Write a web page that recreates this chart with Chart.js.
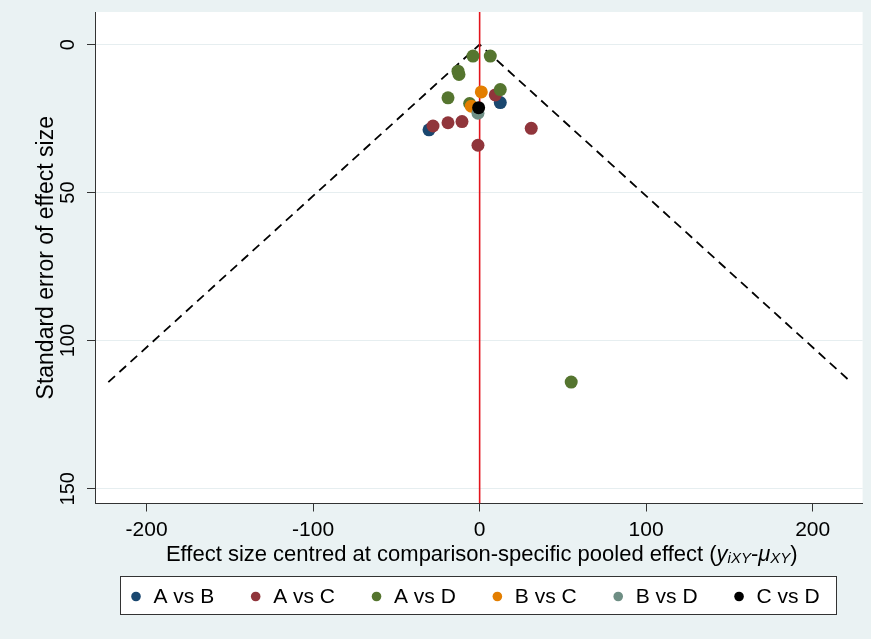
<!DOCTYPE html>
<html>
<head>
<meta charset="utf-8">
<script src="https://cdn.jsdelivr.net/npm/chart.js@4.4.0/dist/chart.umd.min.js"></script>
<style>
html, body { margin: 0; padding: 0; background: #eaf2f3; }
canvas { display: block; }
</style>
</head>
<body>
<canvas id="funnel" width="871" height="639"></canvas>
<script>
// values (x = centred effect size, y = standard error)
const abX = [12.4, -30.4];
const abY = [19.6, 28.8];
const acX = [9.4, -19, -10.6, -28, 31, -1];
const acY = [17, 26.4, 26, 27.5, 28.3, 34];
const adX = [-4, 6.4, -13, -12.4, 12.4, -19, -6, 55];
const adY = [3.9, 3.9, 9, 10.1, 15.2, 18, 19.9, 114];
const bcX = [1, -5];
const bcY = [16, 20.8];
const bdX = [-1];
const bdY = [23.2];
const cdX = [-0.6];
const cdY = [21.3];

const seriesNames = ['A vs B', 'A vs C', 'A vs D', 'B vs C', 'B vs D', 'C vs D'];
const seriesColors = ['#1a476f', '#90353b', '#55752f', '#e37e00', '#6e8e84', '#000000'];

// funnel limits and zero line
const funnelX = [-223, 0, 223];
const funnelY = [114, 0, 114];
const zeroX = [0, 0];
const zeroY = [-11, 155];

const xTicks = [-200, -100, 0, 100, 200];
const yTicks = [0, 50, 100, 150];

const FONT = 'Arial, "Liberation Sans", sans-serif';

function pts(xs, ys) {
    return xs.map(function (x, i) { return { x: x, y: ys[i] }; });
}

const groups = [[abX, abY], [acX, acY], [adX, adY], [bcX, bcY], [bdX, bdY], [cdX, cdY]];
const datasets = [];
groups.forEach(function (g, i) {
    datasets.push({
        label: seriesNames[i],
        data: pts(g[0], g[1]),
        backgroundColor: seriesColors[i],
        borderWidth: 0,
        pointRadius: 6.5,
        pointHoverRadius: 6.5,
        order: 6 - i,
        inLegend: true
    });
});
datasets.push({
    label: 'funnel',
    data: pts(funnelX, funnelY),
    showLine: true,
    borderColor: '#000',
    borderWidth: 1.8,
    borderDash: [9, 6],
    pointRadius: 0,
    order: 20
});
datasets.push({
    label: 'zero',
    data: pts(zeroX, zeroY),
    showLine: true,
    borderColor: '#e3141c',
    borderWidth: 1.6,
    pointRadius: 0,
    order: 19
});

const backdrop = {
    id: 'backdrop',
    beforeDraw: function (chart) {
        const c = chart.ctx, a = chart.chartArea;
        c.save();
        c.fillStyle = '#eaf2f3';
        c.fillRect(0, 0, chart.width, chart.height);
        c.fillStyle = '#ffffff';
        c.fillRect(a.left, a.top, a.right - a.left, a.bottom - a.top);
        c.restore();
    }
};

const extras = {
    id: 'extras',
    afterDraw: function (chart) {
        const c = chart.ctx, a = chart.chartArea;
        c.save();
        // x axis title with subscripts
        const big = '22px ' + FONT, bigI = 'italic 22px ' + FONT, small = 'italic 15px ' + FONT;
        const parts = [
            ['Effect size centred at comparison-specific pooled effect (', big, 0],
            ['y', bigI, 0], ['iXY', small, 2], ['-', big, 0],
            ['\u03bc', bigI, 0], ['XY', small, 2], [')', big, 0]
        ];
        let total = 0;
        parts.forEach(function (p) { c.font = p[1]; p.push(c.measureText(p[0]).width); total += p[3]; });
        let x = (a.left + a.right) / 2 + 3 - total / 2;
        const base = 561;
        c.fillStyle = '#000';
        c.textBaseline = 'alphabetic';
        c.textAlign = 'left';
        parts.forEach(function (p) { c.font = p[1]; c.fillText(p[0], x, base + p[2]); x += p[3]; });

        // legend box
        const bx = 120, by = 576, bw = 716, bh = 38;
        c.fillStyle = '#ffffff';
        c.fillRect(bx, by, bw, bh);
        c.strokeStyle = '#333';
        c.lineWidth = 1;
        c.strokeRect(bx + 0.5, by + 0.5, bw, bh);
        c.font = '21px ' + FONT;
        const items = chart.data.datasets.filter(function (d) { return d.inLegend; });
        const gap = 37, mk = 22;
        const widths = items.map(function (d) { return mk + c.measureText(d.label).width; });
        let ix = 131.5;
        const cy = by + bh / 2 + 1.5;
        c.textBaseline = 'middle';
        items.forEach(function (d, i) {
            c.fillStyle = d.backgroundColor;
            c.beginPath();
            c.arc(ix + 4.5, cy, 4.8, 0, Math.PI * 2);
            c.fill();
            c.fillStyle = '#000';
            c.fillText(d.label, ix + mk, cy + 1);
            ix += widths[i] + gap;
        });
        c.restore();
    }
};

new Chart(document.getElementById('funnel'), {
    type: 'scatter',
    data: { datasets: datasets },
    options: {
        responsive: false,
        devicePixelRatio: 1,
        animation: false,
        layout: { padding: { top: 12, right: 8.4, bottom: 95.5, left: 0 } },
        plugins: { legend: { display: false }, tooltip: { enabled: false } },
        scales: {
            x: {
                type: 'linear',
                min: -231,
                max: 230,
                afterBuildTicks: function (s) { s.ticks = xTicks.map(function (v) { return { value: v }; }); },
                afterFit: function (s) { s.height = 40; s.paddingLeft = 0; s.paddingRight = 0; },
                ticks: { font: { size: 21, family: FONT }, color: '#000', padding: 6, maxRotation: 0 },
                grid: { drawOnChartArea: false, drawTicks: true, tickLength: 8, tickColor: '#333' },
                border: { color: '#333', width: 1 }
            },
            y: {
                type: 'linear',
                reverse: true,
                min: -11,
                max: 155,
                afterBuildTicks: function (s) { s.ticks = yTicks.map(function (v) { return { value: v }; }); },
                afterFit: function (s) { s.width = 95; s.paddingTop = 0; s.paddingBottom = 0; },
                ticks: { font: { size: 20, family: FONT }, color: '#000', minRotation: 90, maxRotation: 90, crossAlign: 'center', padding: 2 },
                grid: { color: '#e6eef0', tickColor: '#333', tickLength: 8, lineWidth: 1 },
                border: { color: '#333', width: 1 },
                title: {
                    display: true,
                    text: 'Standard error of effect size',
                    font: { size: 23, family: FONT },
                    color: '#000',
                    padding: { top: 33, bottom: 0 }
                }
            }
        }
    },
    plugins: [backdrop, extras]
});
</script>
</body>
</html>
